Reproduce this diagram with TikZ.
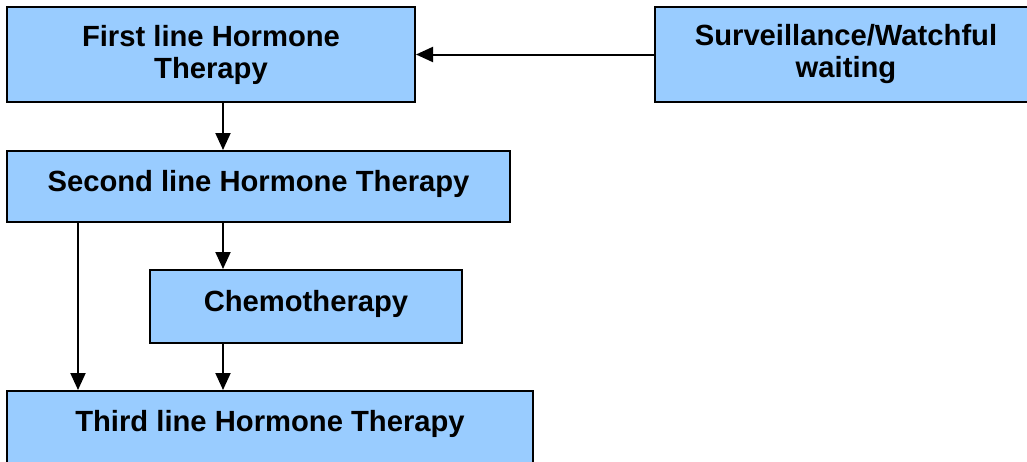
\documentclass[tikz,border=0pt]{standalone}
\usepackage{fontspec}
\setmainfont{Liberation Sans}
\usetikzlibrary{arrows.meta}
\definecolor{boxblue}{HTML}{99CCFF}
\begin{document}
\begin{tikzpicture}[x=1pt,y=-1pt,
  box/.style={draw=black, line width=2pt, fill=boxblue, rectangle, inner sep=0pt,
    align=center, font=\fontsize{29.2}{32}\selectfont\bfseries, text=black},
  conn/.style={line width=2pt, -{Triangle[length=17pt,width=15pt]}}]
\useasboundingbox (0,0) rectangle (1027,461);
\clip (0,0) rectangle (1027,461);
\node[box, minimum width=408pt, minimum height=95pt] (first) at (211,54.5) {First line Hormone\\Therapy};
\node[box, minimum width=382pt, minimum height=95pt] (surv) at (846,54.5) {Surveillance/Watchful\\waiting};
\node[box, minimum width=503pt, minimum height=71pt, text depth=12pt] (second) at (258.5,186.5) {Second line Hormone Therapy};
\node[box, minimum width=312pt, minimum height=73pt, text depth=12pt] (chemo) at (306,306.5) {Chemotherapy};
\node[box, minimum width=526pt, minimum height=80pt, text depth=21pt] (third) at (270,431) {Third line Hormone Therapy};
\draw[conn] (surv.west) -- (first.east);
\draw[conn] (first.south -| 223,0) -- (second.north -| 223,0);
\draw[conn] (second.south -| 223,0) -- (chemo.north -| 223,0);
\draw[conn] (second.south -| 78,0) -- (third.north -| 78,0);
\draw[conn] (chemo.south -| 223,0) -- (third.north -| 223,0);
\end{tikzpicture}
\end{document}
